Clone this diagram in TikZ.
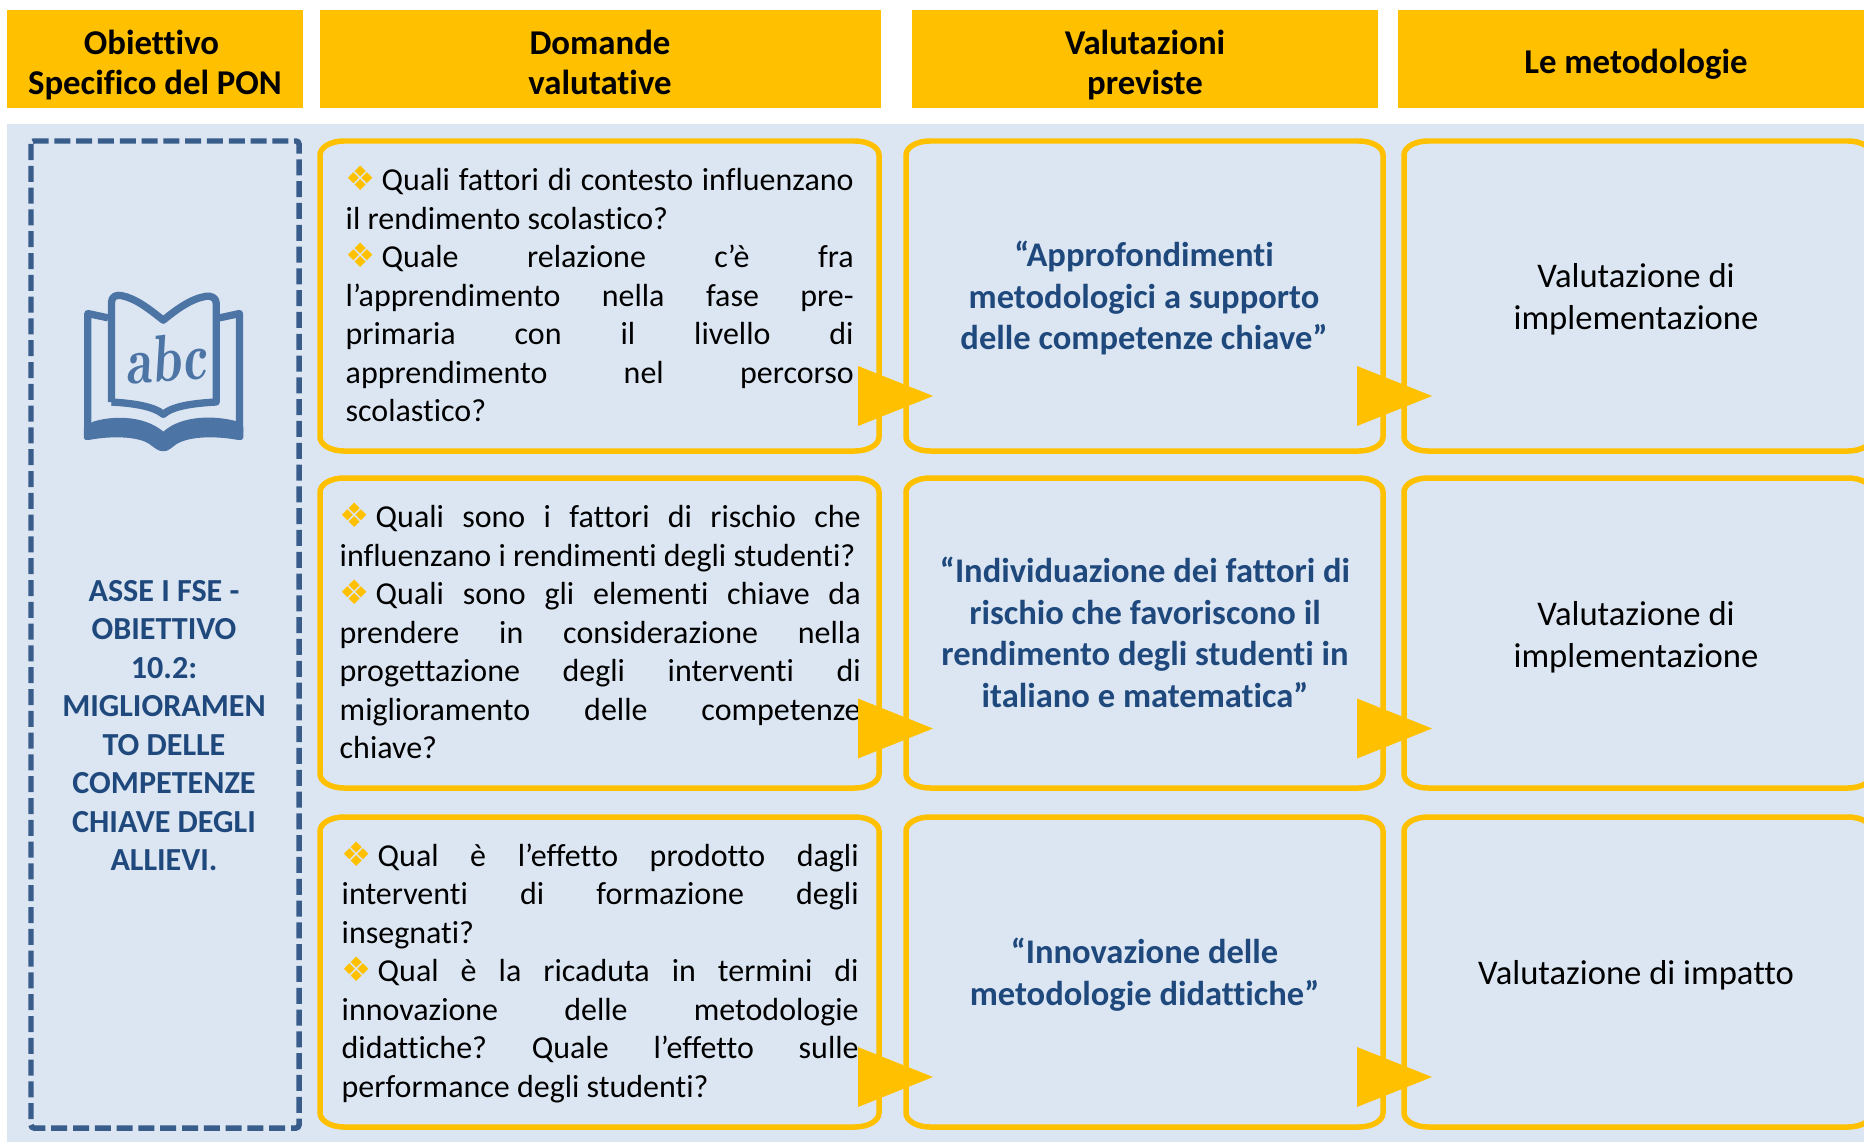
\documentclass[tikz,border=0pt]{standalone}
\usepackage{fontspec}
\usepackage{graphicx}
\setmainfont{Carlito}[Ligatures=NoCommon]
\newfontfamily\markfont{DejaVu Sans}
\definecolor{gold}{HTML}{FFC000}
\definecolor{panel}{HTML}{DCE6F2}
\definecolor{navy}{HTML}{1F497D}
\definecolor{dashblue}{HTML}{385D8A}
\definecolor{bookblue}{HTML}{4C74A5}
\tikzset{
	headtext/.style={inner sep=0pt, font=\fontsize{9.9}{11.6}\selectfont\bfseries, align=center},
	goldline/.style={draw=gold, line width=0.055cm},
	asktext/.style={anchor=north west, inner sep=0pt, text width=#1cm, align=justify,
		font=\fontsize{9.1}{10.95}\selectfont, execute at begin node=\sloppy\frenchspacing},
	evaltext/.style={inner sep=0pt, align=center, text=navy,
		font=\fontsize{9.83}{11.85}\selectfont\bfseries},
	methodtext/.style={inner sep=0pt, align=center,
		font=\fontsize{9.85}{12}\selectfont}
}
\newcommand{\qmark}{\makebox[0.36cm][l]{\markfont\fontsize{9.6}{10.95}\selectfont\textcolor{gold}{❖}}}
\newcommand{\goldbox}[4]{%
	\draw[goldline] (#1+0.24,#2) -- (#3-0.24,#2)
		arc[start angle=90, end angle=0, x radius=0.24, y radius=0.14] -- (#3,#4+0.14)
		arc[start angle=0, end angle=-90, x radius=0.24, y radius=0.14] -- (#1+0.24,#4)
		arc[start angle=270, end angle=180, x radius=0.24, y radius=0.14] -- (#1,#2-0.14)
		arc[start angle=180, end angle=90, x radius=0.24, y radius=0.14] -- cycle;}
\begin{document}
\begin{tikzpicture}
\useasboundingbox (0,0) rectangle (18.64,11.42);
\clip (0,0) rectangle (18.64,11.42);

\fill[panel] (0.07,0) rectangle (18.64,10.18);

\fill[gold] (0.07,10.34) rectangle (3.03,11.32);
\fill[gold] (3.20,10.34) rectangle (8.81,11.32);
\fill[gold] (9.12,10.34) rectangle (13.78,11.32);
\fill[gold] (13.98,10.34) rectangle (18.64,11.32);
\node[headtext] (headgoal) at (1.55,10.756) {\strut Obiettivo\hspace*{0.07cm}\\Specifico del PON\strut};
\node[headtext] (headask) at (6.00,10.756) {\strut Domande\\valutative\strut};
\node[headtext] (headeval) at (11.45,10.756) {\strut Valutazioni\\previste\strut};
\node[headtext] (headmethod) at (16.36,10.77) {\strut Le metodologie\strut};

\draw[dashblue, line width=0.055cm, rounded corners=0.03cm, dash pattern=on 0.16cm off 0.058cm]
	(0.31,10.01) rectangle (2.99,0.14);

% the open book
\begin{scope}[shift={(0,10.42)}, x=0.003333cm, y=-0.003333cm]
\draw[bookblue, line width=0.073cm, line join=round]
	(335,908) -- (335,610) .. controls (335,590) and (350,585) .. (365,588)
	.. controls (410,597) and (450,630) .. (491,662)
	.. controls (530,630) and (575,597) .. (620,590)
	.. controls (635,588) and (650,595) .. (650,610)
	-- (650,908) .. controls (580,912) and (520,920) .. (491,945)
	.. controls (460,920) and (400,912) .. (335,908);
\draw[bookblue, line width=0.073cm, line join=round]
	(325,655) -- (264,642) -- (264,1000);
\draw[bookblue, line width=0.073cm, line join=round]
	(660,655) -- (720,642) -- (720,1000);
\fill[bookblue] (252,985) -- (278,968) .. controls (330,950) and (430,945) .. (491,997)
	.. controls (550,945) and (650,950) .. (708,965) -- (732,985) -- (732,1012)
	.. controls (732,1022) and (722,1024) .. (715,1022)
	.. controls (650,1010) and (570,1010) .. (530,1035)
	.. controls (510,1050) and (505,1056) .. (491,1056)
	.. controls (477,1056) and (470,1050) .. (450,1035)
	.. controls (415,1010) and (330,1010) .. (268,1022)
	.. controls (260,1024) and (252,1022) .. (252,1012) -- cycle;
\node[text=bookblue, inner sep=0pt, rotate=4, font=\fontfamily{lmr}\fontsize{19}{19}\selectfont\itshape\bfseries] (bookabc) at (497,778) {\scalebox{0.8}[1]{abc}};
\end{scope}

\node[inner sep=0pt, align=center, text=navy, font=\fontsize{9.14}{10.94}\selectfont\bfseries] (goaltext) at (1.64,4.165)
	{ASSE I FSE -\\OBIETTIVO\\10.2:\\MIGLIORAMEN\\TO DELLE\\COMPETENZE\\CHIAVE DEGLI\\ALLIEVI.};

% boxes of the three rows
\goldbox{3.20}{10.01}{8.79}{6.91}
\goldbox{9.06}{10.01}{13.83}{6.91}
\goldbox{14.04}{10.01}{18.72}{6.91}
\goldbox{3.20}{6.64}{8.79}{3.54}
\goldbox{9.06}{6.64}{13.83}{3.54}
\goldbox{14.04}{6.64}{18.72}{3.54}
\goldbox{3.20}{3.25}{8.79}{0.15}
\goldbox{9.06}{3.25}{13.83}{0.15}
\goldbox{14.04}{3.25}{18.72}{0.15}

\node[asktext=5.08] (ask1) at (3.45,9.763)
	{\qmark Quali fattori di contesto influenzano\linebreak
	il rendimento scolastico?\par
	\qmark Quale relazione c’è fra\linebreak
	l’apprendimento nella fase pre-\linebreak
	primaria con il livello di\linebreak
	apprendimento nel percorso\linebreak
	scolastico?};
\node[asktext=5.21] (ask2) at (3.39,6.395)
	{\qmark Quali sono i fattori di rischio che\linebreak
	influenzano i rendimenti degli studenti?\par
	\qmark Quali sono gli elementi chiave da\linebreak
	prendere in considerazione nella\linebreak
	progettazione degli interventi di\linebreak
	miglioramento delle competenze\linebreak
	chiave?};
\node[asktext=5.17] (ask3) at (3.41,3.01)
	{\qmark Qual è l’effetto prodotto dagli\linebreak
	interventi di formazione degli\linebreak
	insegnati?\par
	\qmark Qual è la ricaduta in termini di\linebreak
	innovazione delle metodologie\linebreak
	didattiche? Quale l’effetto sulle\linebreak
	performance degli studenti?};

\node[evaltext] (eval1) at (11.44,8.44)
	{“Approfondimenti\\metodologici a supporto\\delle competenze chiave”};
\node[evaltext] (eval2) at (11.45,5.095)
	{“Individuazione dei fattori di\\rischio che favoriscono il\\rendimento degli studenti in\\italiano e matematica”};
\node[evaltext] (eval3) at (11.445,1.675)
	{“Innovazione delle\\metodologie didattiche”};

\node[methodtext] (method1) at (16.36,8.43) {Valutazione di\\implementazione};
\node[methodtext] (method2) at (16.36,5.05) {Valutazione di\\implementazione};
\node[methodtext] (method3) at (16.36,1.67) {Valutazione di impatto};

\foreach \y in {7.46,4.135,0.65} {
	\fill[gold] (8.58,\y+0.30) -- (9.33,\y) -- (8.58,\y-0.30) -- cycle;
	\fill[gold] (13.57,\y+0.30) -- (14.32,\y) -- (13.57,\y-0.30) -- cycle;
}
\end{tikzpicture}
\end{document}
